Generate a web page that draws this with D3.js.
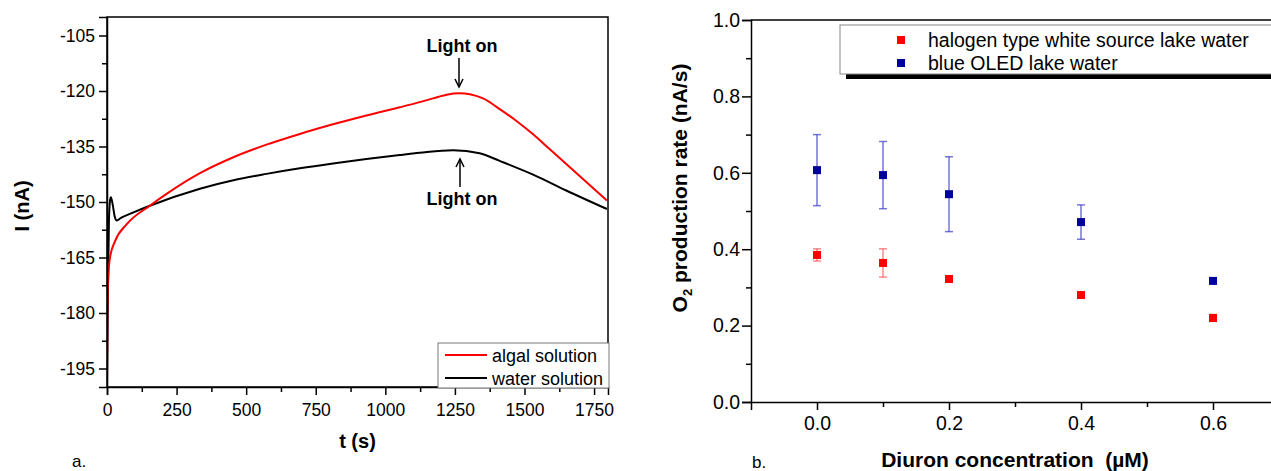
<!DOCTYPE html>
<html>
<head>
<meta charset="utf-8">
<script src="https://cdn.jsdelivr.net/npm/d3@7"></script>
<style>
  body { margin: 0; background: #fff; }
  svg { display: block; font-family: "Liberation Sans", Arial, sans-serif; }
</style>
</head>
<body>
<div id="chart"></div>
<script>
// panel a: current traces (t in s, I in nA)
const algalT = [0, 1, 3, 5, 11, 29, 71, 154, 214, 334, 454, 573, 693, 812, 932, 1052, 1124, 1171, 1220, 1265, 1351, 1411, 1471, 1531, 1590, 1650, 1710, 1796];
const algalI = [-200, -185, -174, -169.8, -164.9, -160.6, -156, -151, -147.8, -142.2, -137.9, -134.5, -131.6, -129, -126.6, -124.4, -123, -122, -121, -120.6, -122, -124.9, -128.1, -131.7, -135.7, -139.7, -143.8, -149.6];
const waterT = [0, 3, 7, 11, 14, 20, 28, 35, 50, 95, 154, 334, 454, 573, 693, 812, 932, 1052, 1124, 1243, 1339, 1411, 1531, 1650, 1796];
const waterI = [-200, -175, -155, -149.5, -148.7, -150.5, -154, -155, -154.3, -152.8, -151, -146.4, -144.1, -142.4, -140.9, -139.6, -138.4, -137.3, -136.7, -136, -136.8, -138.9, -142.6, -146.9, -151.9];
const yTicksA = [-195, -180, -165, -150, -135, -120, -105];
const xTicksA = [0, 250, 500, 750, 1000, 1250, 1500, 1750];

// panel b: O2 production rate vs diuron concentration
const conc = [0, 0.1, 0.2, 0.4, 0.6];
const halogen = [0.385, 0.364, 0.322, 0.280, 0.220];
const halogenErr = [0.016, 0.037, 0.005, 0.006, 0.009];
const blueOled = [0.607, 0.594, 0.544, 0.471, 0.317];
const blueErr = [0.093, 0.088, 0.098, 0.045, 0.004];
const yTicksB = [0, 0.2, 0.4, 0.6, 0.8, 1.0];
const xTicksB = [0, 0.2, 0.4, 0.6];

const width = 1271, height = 471;
const svg = d3.select("#chart").append("svg")
  .attr("width", width).attr("height", height)
  .attr("viewBox", [0, 0, width, height]);

function styleAxis(g, fs) {
  g.select(".domain").attr("stroke-width", 1.5);
  g.selectAll(".tick line").attr("stroke-width", 1.5);
  g.selectAll(".tick text").attr("font-size", fs).attr("fill", "#000")
    .attr("font-family", "Liberation Sans, Arial, sans-serif");
}

// ---------- panel a ----------
const xa = d3.scaleLinear().domain([0, 1800]).range([107, 608]);
const ya = d3.scaleLinear().domain([-200, -100]).range([387, 17]);

svg.append("defs").append("clipPath").attr("id", "clipA")
  .append("rect").attr("x", xa(0)).attr("y", ya(-100))
  .attr("width", xa(1800) - xa(0)).attr("height", ya(-200) - ya(-100));

const lineA = d3.line().x(d => xa(d[0])).y(d => ya(d[1])).curve(d3.curveMonotoneX);
const gA = svg.append("g");
gA.append("path").datum(d3.zip(waterT, waterI))
  .attr("d", lineA).attr("fill", "none").attr("stroke", "#000")
  .attr("stroke-width", 2).attr("clip-path", "url(#clipA)");
gA.append("path").datum(d3.zip(algalT, algalI))
  .attr("d", lineA).attr("fill", "none").attr("stroke", "#ff0000")
  .attr("stroke-width", 2).attr("clip-path", "url(#clipA)");

// frame
gA.append("rect").attr("x", xa(0)).attr("y", ya(-100))
  .attr("width", xa(1800) - xa(0)).attr("height", ya(-200) - ya(-100))
  .attr("fill", "none").attr("stroke", "#000").attr("stroke-width", 1.5);

gA.append("g").attr("transform", `translate(${xa(0)},0)`)
  .call(d3.axisLeft(ya).tickValues(d3.range(-187.5, -100, 15)).tickSize(5).tickFormat(""))
  .call(g => g.select(".domain").remove())
  .call(styleAxis, 0);
gA.append("g").attr("transform", `translate(${xa(0)},0)`)
  .call(d3.axisLeft(ya).tickValues(yTicksA).tickSize(8).tickPadding(4).tickFormat(d => String(d)))
  .call(styleAxis, 17.5);
gA.append("g").attr("transform", `translate(0,${ya(-200)})`)
  .call(d3.axisBottom(xa).tickValues(d3.range(125, 1800, 250)).tickSize(5).tickFormat(""))
  .call(g => g.select(".domain").remove())
  .call(styleAxis, 0);
gA.append("g").attr("transform", `translate(0,${ya(-200)})`)
  .call(d3.axisBottom(xa).tickValues(xTicksA).tickSize(8).tickPadding(9).tickFormat(d => String(d)))
  .call(styleAxis, 17.5);

gA.append("text").attr("x", (xa(0) + xa(1800)) / 2).attr("y", 448)
  .attr("text-anchor", "middle").attr("font-size", 20).attr("font-weight", "bold").text("t (s)");
gA.append("text").attr("transform", "translate(29,206) rotate(-90)")
  .attr("text-anchor", "middle").attr("font-size", 20).attr("font-weight", "bold").text("I (nA)");
gA.append("text").attr("x", 72).attr("y", 467).attr("font-size", 17).text("a.");

// "Light on" annotations
function arrow(g, x, y0, y1) {
  const dir = y1 > y0 ? 1 : -1;
  g.append("line").attr("x1", x).attr("x2", x).attr("y1", y0).attr("y2", y1)
    .attr("stroke", "#000").attr("stroke-width", 1.5);
  g.append("path")
    .attr("d", `M${x - 4},${y1 - dir * 8}L${x},${y1}L${x + 4},${y1 - dir * 8}`)
    .attr("fill", "none").attr("stroke", "#000").attr("stroke-width", 1.5);
}
gA.append("text").attr("x", 462).attr("y", 52).attr("text-anchor", "middle")
  .attr("font-size", 18).attr("font-weight", "bold").text("Light on");
arrow(gA, 459, 58, 87);
gA.append("text").attr("x", 462).attr("y", 205).attr("text-anchor", "middle")
  .attr("font-size", 18).attr("font-weight", "bold").text("Light on");
arrow(gA, 460, 187, 159);

// legend a
const legA = gA.append("g");
legA.append("rect").attr("x", 438).attr("y", 343).attr("width", 171).attr("height", 45)
  .attr("fill", "#fff").attr("stroke", "#777").attr("stroke-width", 1);
[["algal solution", "#ff0000"], ["water solution", "#000"]].forEach(([label, c], i) => {
  const y = 355 + i * 23;
  legA.append("line").attr("x1", 445).attr("x2", 487).attr("y1", y).attr("y2", y)
    .attr("stroke", c).attr("stroke-width", 2);
  legA.append("text").attr("x", 492).attr("y", y + 6.5).attr("font-size", 18).text(label);
});

// ---------- panel b ----------
const xb = d3.scaleLinear().domain([-0.1, 0.7]).range([751, 1279]);
const yb = d3.scaleLinear().domain([0, 1]).range([402, 20]);
const gB = svg.append("g");

gB.append("line").attr("x1", xb(-0.1)).attr("x2", width).attr("y1", yb(1)).attr("y2", yb(1))
  .attr("stroke", "#000").attr("stroke-width", 1.5);

gB.append("g").attr("transform", `translate(${xb(-0.1)},0)`)
  .call(d3.axisLeft(yb).tickValues(d3.range(0.1, 1, 0.2)).tickSize(5).tickFormat(""))
  .call(g => g.select(".domain").remove())
  .call(styleAxis, 0);
gB.append("g").attr("transform", `translate(${xb(-0.1)},0)`)
  .call(d3.axisLeft(yb).tickValues(yTicksB).tickSize(9).tickPadding(2).tickFormat(d3.format(".1f")))
  .call(styleAxis, 19.5);
gB.append("g").attr("transform", `translate(0,${yb(0)})`)
  .call(d3.axisBottom(xb).tickValues([0.1, 0.3, 0.5]).tickSize(5).tickFormat(""))
  .call(g => g.select(".domain").remove())
  .call(styleAxis, 0);
gB.append("g").attr("transform", `translate(0,${yb(0)})`)
  .call(d3.axisBottom(xb).tickValues(xTicksB).tickSize(8).tickPadding(6).tickFormat(d3.format(".1f")))
  .call(styleAxis, 19.5);

// error bars + markers
const seriesB = [
  { vals: halogen, err: halogenErr, color: "#ff0000", bar: "rgba(255,60,60,0.6)" },
  { vals: blueOled, err: blueErr, color: "#00009c", bar: "rgba(60,60,200,0.7)" }
];
seriesB.forEach(s => {
  const pts = conc.map((c, i) => ({ c, v: s.vals[i], e: s.err[i] }));
  const eb = gB.append("g").attr("stroke", s.bar).attr("stroke-width", 1.5);
  eb.selectAll("line.v").data(pts).join("line").attr("class", "v")
    .attr("x1", d => xb(d.c)).attr("x2", d => xb(d.c))
    .attr("y1", d => yb(d.v - d.e)).attr("y2", d => yb(d.v + d.e));
  [-1, 1].forEach(sg => {
    eb.selectAll("line.c" + (sg + 1)).data(pts).join("line").attr("class", "c" + (sg + 1))
      .attr("x1", d => xb(d.c) - 4).attr("x2", d => xb(d.c) + 4)
      .attr("y1", d => yb(d.v + sg * d.e)).attr("y2", d => yb(d.v + sg * d.e));
  });
  gB.append("g").selectAll("rect").data(pts).join("rect")
    .attr("x", d => xb(d.c) - 4).attr("y", d => yb(d.v) - 4)
    .attr("width", 8).attr("height", 8).attr("fill", s.color);
});

// legend b with shadow
const legB = gB.append("g");
legB.append("rect").attr("x", 846).attr("y", 30).attr("width", 500).attr("height", 49).attr("fill", "#000");
legB.append("rect").attr("x", 840).attr("y", 25).attr("width", 500).attr("height", 49)
  .attr("fill", "#fff").attr("stroke", "#888").attr("stroke-width", 1);
[["halogen type white source lake water", "#ff0000"], ["blue OLED lake water", "#00009c"]].forEach(([label, c], i) => {
  const y = 40 + i * 23;
  legB.append("rect").attr("x", 897).attr("y", y - 4).attr("width", 8).attr("height", 8).attr("fill", c);
  legB.append("text").attr("x", 928).attr("y", y + 7).attr("font-size", 19.5).text(label);
});

gB.append("text").attr("x", (xb(-0.1) + xb(0.7)) / 2).attr("y", 467)
  .attr("text-anchor", "middle").attr("font-size", 21).attr("font-weight", "bold")
  .style("white-space", "pre")
  .text("Diuron concentration  (µM)");
const yl = gB.append("text").attr("transform", "translate(687,188) rotate(-90)")
  .attr("text-anchor", "middle").attr("font-size", 21).attr("font-weight", "bold");
yl.append("tspan").text("O");
yl.append("tspan").attr("font-size", 13).attr("dy", 5).text("2");
yl.append("tspan").attr("dy", -5).text(" production rate (nA/s)");
gB.append("text").attr("x", 752).attr("y", 468).attr("font-size", 17).text("b.");
</script>
</body>
</html>
